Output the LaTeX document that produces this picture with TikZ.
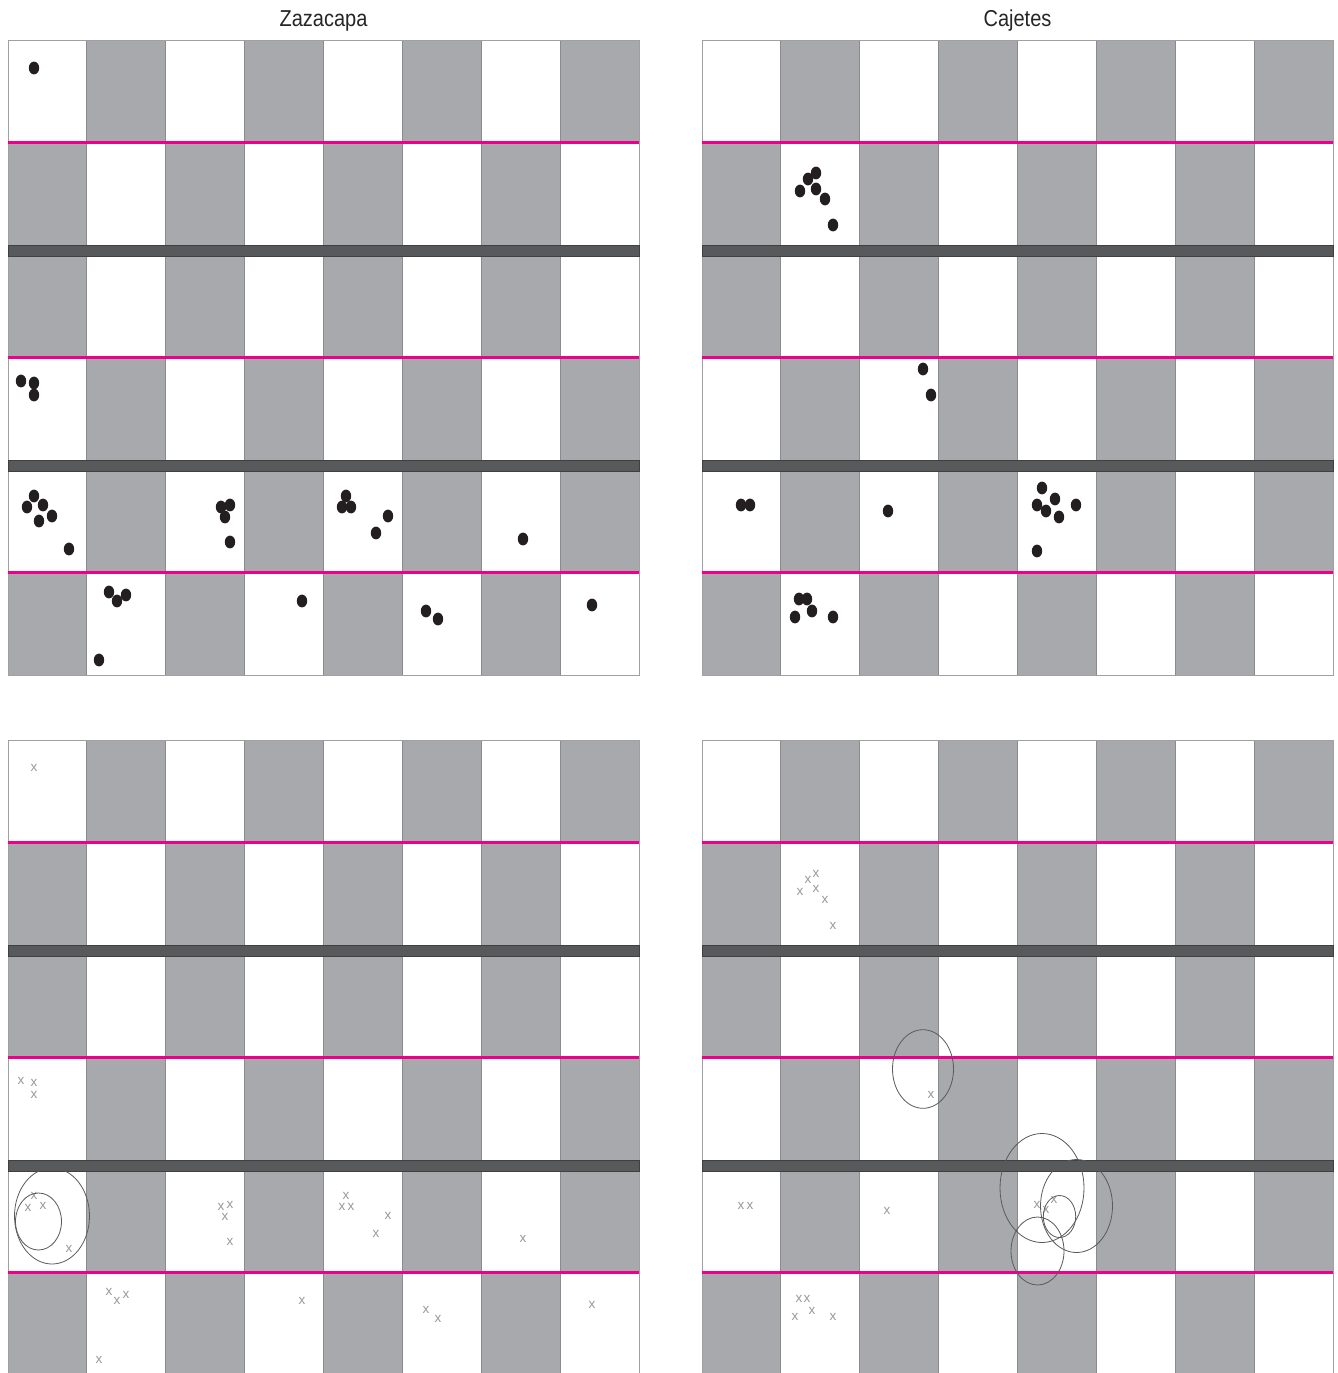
\documentclass[tikz,border=0pt]{standalone}
\usepackage{fontspec}
\setmainfont{Liberation Sans}
\definecolor{cellgray}{HTML}{A7A9AC}
\definecolor{bandgray}{HTML}{58595B}
\definecolor{mag}{HTML}{EC008C}
\definecolor{linegray}{HTML}{8A8B8D}
\definecolor{framegray}{HTML}{A0A0A2}
\definecolor{dotblack}{HTML}{231F20}
\definecolor{xgray}{HTML}{999999}
\definecolor{ringgray}{HTML}{5A5A5A}
\tikzset{
  colline/.style={draw=linegray, line width=1pt},
  frameline/.style={draw=framegray, line width=1pt},
  bandfill/.style={fill=bandgray, draw=black!75, line width=0.6pt},
  magline/.style={draw=mag, line width=3.2pt},
  dotmark/.style={fill=dotblack},
  xmark/.style={text=xgray, font=\fontsize{13.5}{13.5}\selectfont, inner sep=0pt},
  ring/.style={draw=ringgray, line width=0.8pt},
  titletext/.style={font=\fontsize{23}{26}\selectfont, text=black!85, inner sep=0pt, anchor=base}
}
\newcommand\gridpanel[2]{%
  \begin{scope}[shift={(#1,#2)}]
    \fill[white] (0,0) rectangle (631,635);
    \foreach \ya/\yb/\p in {0/102.8/0, 102.8/205/1, 216/317.4/1, 317.4/420/0, 431/532.4/0, 532.4/635/1}{
      \foreach \c in {0,...,7}{
        \pgfmathtruncatemacro\g{mod(\c+\p,2)}
        \ifnum\g=1 \fill[cellgray] ({\c*78.875},\ya) rectangle ({(\c+1)*78.875},\yb);\fi
      }
    }
    \foreach \c in {1,...,7}{\draw[colline] ({\c*78.875},0) -- ({\c*78.875},635);}
    \draw[frameline] (0,0) rectangle (631,635);
    \filldraw[bandfill] (0,205) rectangle (631,216);
    \filldraw[bandfill] (0,420) rectangle (631,431);
    \foreach \m in {102.8,317.4,532.4}{\draw[magline] (0,\m) -- (631,\m);}
  \end{scope}
}
\begin{document}
\begin{tikzpicture}[x=1pt,y=-1pt]
\useasboundingbox (0,0) rectangle (1338,1373);
\fill[white] (0,0) rectangle (1338,1373);
\node[titletext] (ttlZ) at (323.5,26.7) {\scalebox{0.87}[1]{Zazacapa}};
\node[titletext] (ttlC) at (1017.5,26.7) {\scalebox{0.87}[1]{Cajetes}};
\gridpanel{8}{40}
\gridpanel{702}{40}
\gridpanel{8}{740}
\gridpanel{702}{740}
% top-left dots
\foreach \x/\y in {34/68, 21/381, 34/383, 34/395,
  34/496, 27/507, 43/505, 52/516, 39/521, 69/549,
  221/507, 230/505, 225/517, 230/542,
  109/592, 117/601, 126/595, 99/660, 302/601,
  346/496, 342/507, 351/507, 388/516, 376/533,
  523/539, 426/611, 438/619, 592/605}
  {\fill[dotmark] (\x,\y) ellipse [x radius=5.2pt, y radius=6.4pt];}
% top-right dots
\foreach \x/\y in {816/173, 808/179, 800/191, 816/189, 825/199, 833/225,
  923/369, 931/395, 741/505, 750/505, 888/511,
  1042/488, 1055/499, 1037/505, 1046/511, 1059/517, 1076/505, 1037/551,
  799/599, 807/599, 812/611, 795/617, 833/617}
  {\fill[dotmark] (\x,\y) ellipse [x radius=5.2pt, y radius=6.4pt];}
% bottom-left marks
\foreach \x/\y [count=\i] in {34/768, 21/1081, 34/1083, 34/1095,
  34/1196, 28/1208, 43/1206, 69/1249,
  221/1207, 230/1205, 225/1217, 230/1242,
  109/1292, 117/1301, 126/1295, 99/1360, 302/1301,
  346/1196, 342/1207, 351/1207, 388/1216, 376/1234,
  523/1239, 426/1310, 438/1319, 592/1305}
  {\node[xmark] (bl\i) at (\x,\y) {x};}
% bottom-right marks
\foreach \x/\y [count=\i] in {816/874, 808/880, 800/892, 816/889, 825/900, 833/926,
  931/1095, 741/1206, 750/1206, 887/1211,
  1037/1205, 1046/1210, 1054/1200,
  799/1299, 807/1299, 812/1311, 795/1317, 833/1317}
  {\node[xmark] (br\i) at (\x,\y) {x};}
% rings
\draw[ring] (52,1216) ellipse [x radius=37.5pt, y radius=48pt];
\draw[ring] (38.5,1221.5) ellipse [x radius=23pt, y radius=28.5pt];
\draw[ring] (923,1069) ellipse [x radius=30.5pt, y radius=39.3pt];
\draw[ring] (1042,1188) ellipse [x radius=42pt, y radius=54.5pt];
\draw[ring] (1076.5,1206) ellipse [x radius=36pt, y radius=46.5pt];
\draw[ring] (1059.5,1216.5) ellipse [x radius=16.2pt, y radius=21pt];
\draw[ring] (1037.5,1251) ellipse [x radius=26.5pt, y radius=34pt];
\end{tikzpicture}
\end{document}
